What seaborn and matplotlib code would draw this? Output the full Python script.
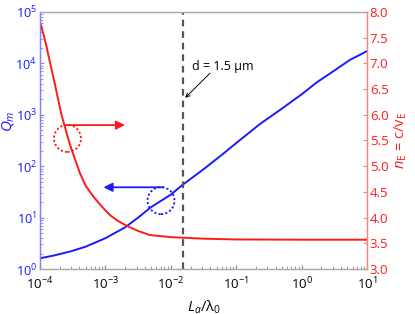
import numpy as np
import pandas as pd
import seaborn as sns
import matplotlib
matplotlib.use("Agg")
import matplotlib.pyplot as plt
from matplotlib.patches import Circle
from matplotlib.transforms import ScaledTranslation
from matplotlib.ticker import LogLocator, MultipleLocator, FormatStrFormatter, NullFormatter

# Q_m (left axis, log)
q_ratio = [1e-4, 1.6e-4, 2.9e-4, 5e-4, 1e-3, 2e-3, 3.16e-3, 5e-3, 1e-2, 1.5e-2,
           3.16e-2, 6.3e-2, 0.1, 0.23, 0.5, 1.0, 1.7, 3.16, 5.5, 7.9, 10.0]
q_m = [1.62, 1.82, 2.19, 2.72, 3.98, 6.46, 10, 16, 28, 43,
       87, 174, 282, 660, 1320, 2500, 4270, 7240, 11750, 14800, 17400]

# n_E = c/v_E (right axis, linear)
n_ratio = [1e-4, 1.26e-4, 1.32e-4, 1.68e-4, 2.12e-4, 2.68e-4, 3.05e-4, 4.09e-4,
           5e-4, 6.53e-4, 8.9e-4, 1.17e-3, 1.58e-3, 2.12e-3, 3.16e-3, 4.81e-3,
           1e-2, 3.16e-2, 0.1, 1.0, 10.0]
n_e = [7.82, 7.33, 7.20, 6.61, 6.01, 5.55, 5.32, 4.86,
       4.62, 4.41, 4.21, 4.05, 3.93, 3.84, 3.74, 3.66,
       3.62, 3.59, 3.575, 3.57, 3.57]

d_ratio = 0.0155  # d = 1.5 um

sns.set_style("white")
plt.rcParams["font.family"] = ["Open Sans", "DejaVu Sans"]
plt.rcParams["mathtext.fontset"] = "custom"
plt.rcParams["mathtext.rm"] = "Open Sans"
plt.rcParams["mathtext.it"] = "Open Sans:italic"
plt.rcParams["mathtext.default"] = "it"

blue = "#1a1aff"
red = "#ff1a1a"

fig = plt.figure(figsize=(4.15, 3.14), dpi=100)
ax = fig.add_axes([0.0964, 0.1433, 0.7880, 0.8185])
ax2 = ax.twinx()

df_q = pd.DataFrame({"ratio": q_ratio, "Q": q_m})
df_n = pd.DataFrame({"ratio": n_ratio, "n": n_e})

sns.lineplot(data=df_q, x="ratio", y="Q", ax=ax, color=blue, lw=1.4)
sns.lineplot(data=df_n, x="ratio", y="n", ax=ax2, color=red, lw=1.4)

ax.set_xscale("log")
ax.set_yscale("log")
ax.set_xlim(1e-4, 1e1)
ax.set_ylim(1e0, 1e5)
ax2.set_ylim(3.0, 8.0)

ax.axvline(d_ratio, color="#555555", ls=(0, (3, 2.2)), lw=1.6)

# tick styling
ax.xaxis.set_major_locator(LogLocator(base=10, numticks=10))
ax.xaxis.set_minor_locator(LogLocator(base=10, subs=np.arange(2, 10), numticks=20))
ax.xaxis.set_minor_formatter(NullFormatter())
ax.yaxis.set_minor_locator(LogLocator(base=10, subs=np.arange(2, 10), numticks=20))
ax.yaxis.set_minor_formatter(NullFormatter())
ax.tick_params(axis="x", which="both", direction="in", bottom=True, top=False,
               colors="#888888", labelcolor="black", labelsize=9.5, pad=5)
ax.tick_params(axis="x", which="major", length=3)
ax.tick_params(axis="x", which="minor", length=2)
ax.tick_params(axis="y", which="both", direction="in", left=True,
               colors="#8080ff", labelcolor=blue, labelsize=9.2, pad=2)
ax.tick_params(axis="y", which="major", length=3)
ax.tick_params(axis="y", which="minor", length=2)

ax2.yaxis.set_major_locator(MultipleLocator(0.5))
ax2.yaxis.set_major_formatter(FormatStrFormatter("%.1f"))
ax2.tick_params(axis="y", direction="in", right=True, length=3,
                colors="#ff8080", labelcolor=red, labelsize=9.5, pad=2)

for a in (ax, ax2):
    a.spines["top"].set_color("#aaaaaa")
    a.spines["bottom"].set_color("#aaaaaa")
    a.spines["left"].set_color("#8080ff")
    a.spines["right"].set_color("#ff8080")
    for s in a.spines.values():
        s.set_linewidth(0.9)

ax.set_xlabel(r"$L_a/\mathrm{\lambda_0}$", fontsize=10.5, color="black")
ax.set_ylabel(r"$Q_m$", fontsize=11, color=blue)
ax.yaxis.set_label_coords(-0.074, 0.574)
ax2.set_ylabel(r"$n_\mathrm{E}$ = c/v$_\mathrm{E}$", fontsize=10.5, color=red, labelpad=3)

# annotation circles and arrows (drawn on the left axis)
def dotted_circle(x, y, color):
    trans = fig.dpi_scale_trans + ScaledTranslation(x, y, ax.transData)
    ax.add_patch(Circle((0, 0), 0.135, transform=trans, fill=False,
                        ec=color, ls=(0, (1.2, 1.2)), lw=1.3, clip_on=False))

dotted_circle(10 ** -3.58, 10 ** 2.54, red)
dotted_circle(10 ** -2.15, 10 ** 1.33, blue)

ax.annotate("", xy=(10 ** -2.70, 10 ** 2.80), xytext=(10 ** -3.60, 10 ** 2.80),
            arrowprops=dict(arrowstyle="-|>", color=red, lw=1.3, mutation_scale=13,
                            shrinkA=0, shrinkB=0))
ax.annotate("", xy=(10 ** -3.03, 10 ** 1.59), xytext=(10 ** -2.115, 10 ** 1.59),
            arrowprops=dict(arrowstyle="-|>", color=blue, lw=1.3, mutation_scale=13,
                            shrinkA=0, shrinkB=0))

ax.text(10 ** -1.676, 10 ** 3.93, "d = 1.5 \u03bcm", fontsize=9, color="black",
        ha="left", va="center")
ax.annotate("", xy=(10 ** -1.78, 10 ** 3.33), xytext=(10 ** -1.40, 10 ** 3.81),
            arrowprops=dict(arrowstyle="->", color="black", lw=0.7, mutation_scale=7,
                            shrinkA=0, shrinkB=0))

fig.savefig("out.png", dpi=100)
